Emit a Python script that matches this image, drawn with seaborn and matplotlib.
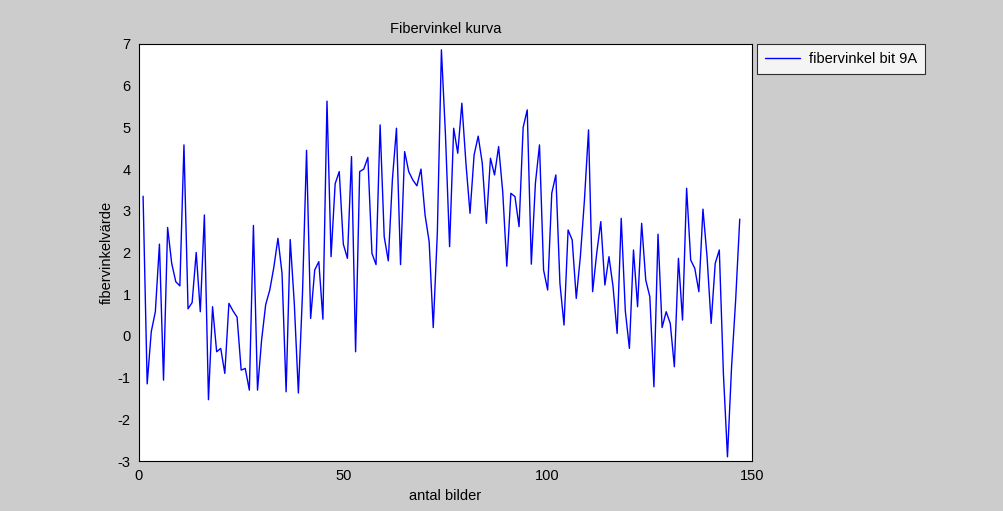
import numpy as np
import pandas as pd
import matplotlib
matplotlib.use("Agg")
import matplotlib.pyplot as plt
import seaborn as sns

sns.set_style("white")
plt.rcParams["font.family"] = ["Liberation Sans", "DejaVu Sans"]
plt.rcParams["axes.unicode_minus"] = False
plt.rcParams["text.color"] = "black"
plt.rcParams["axes.labelcolor"] = "black"

# fibervinkel per bild
fibervinkel = [
    3.35, -1.15, 0.1, 0.58, 2.2, -1.06, 2.6, 1.74, 1.3, 1.2,
    4.58, 0.65, 0.8, 2.0, 0.58, 2.9, -1.53, 0.7, -0.38, -0.3,
    -0.9, 0.78, 0.6, 0.45, -0.82, -0.78, -1.3, 2.65, -1.3, -0.1,
    0.75, 1.1, 1.65, 2.34, 1.5, -1.34, 2.31, 0.78, -1.37, 1.0,
    4.45, 0.42, 1.58, 1.78, 0.4, 5.63, 1.9, 3.65, 3.94, 2.2,
    1.86, 4.3, -0.38, 3.94, 4.0, 4.28, 1.98, 1.71, 5.06, 2.38,
    1.8, 3.74, 4.98, 1.71, 4.42, 3.94, 3.74, 3.6, 4.0, 2.9,
    2.26, 0.2, 2.46, 6.86, 4.8, 2.14, 4.98, 4.38, 5.58, 4.14,
    2.94, 4.34, 4.79, 4.14, 2.7, 4.26, 3.86, 4.54, 3.46, 1.67,
    3.42, 3.34, 2.62, 5.0, 5.42, 1.72, 3.66, 4.58, 1.58, 1.1,
    3.42, 3.86, 1.26, 0.26, 2.54, 2.3, 0.9, 1.9, 3.26, 4.94,
    1.06, 1.98, 2.74, 1.22, 1.9, 1.18, 0.06, 2.82, 0.6, -0.3,
    2.06, 0.7, 2.7, 1.34, 0.94, -1.22, 2.44, 0.2, 0.58, 0.3,
    -0.74, 1.86, 0.38, 3.54, 1.82, 1.62, 1.06, 3.04, 1.9, 0.3,
    1.74, 2.06, -0.9, -2.9, -0.74, 0.86, 2.8,
]
bilder = np.arange(1, len(fibervinkel) + 1)
xticks = [0, 50, 100, 150]
yticks = [-3, -2, -1, 0, 1, 2, 3, 4, 5, 6, 7]

df = pd.DataFrame({"antal bilder": bilder, "fibervinkel": fibervinkel})

fig = plt.figure(figsize=(10.04, 5.11), dpi=100, facecolor="#cccccc")
ax = fig.add_axes([139 / 1004, 1 - 461 / 511, (752 - 139) / 1004, (461 - 44) / 511])
ax.set_facecolor("white")

sns.lineplot(data=df, x="antal bilder", y="fibervinkel", color="#0000ff",
             linewidth=1.0, label="fibervinkel bit 9A", ax=ax)

ax.set_xlim(0, 150)
ax.set_ylim(-3, 7)
ax.set_xticks(xticks)
ax.set_yticks(yticks)
ax.tick_params(direction="in", length=5, width=0.8, labelsize=10.5,
               colors="black", pad=6)
for s in ax.spines.values():
    s.set_color("black")
    s.set_linewidth(0.8)

ax.set_title("Fibervinkel kurva", fontsize=10.5, pad=8, color="black")
ax.set_xlabel("antal bilder", fontsize=10.5, labelpad=4)
ax.set_ylabel("fibervinkelvärde", fontsize=10.5, labelpad=3)

leg = ax.legend(loc="upper left", bbox_to_anchor=(757 / 1004, 1 - 44 / 511),
                bbox_transform=fig.transFigure, fontsize=10.5, frameon=True,
                fancybox=False, borderaxespad=0, handlelength=2.4,
                borderpad=0.55, handletextpad=0.6)
leg.get_frame().set_edgecolor("black")
leg.get_frame().set_linewidth(0.8)
leg.get_frame().set_facecolor("white")
for t in leg.get_texts():
    t.set_color("black")

fig.savefig("out.png", dpi=100, facecolor=fig.get_facecolor())
